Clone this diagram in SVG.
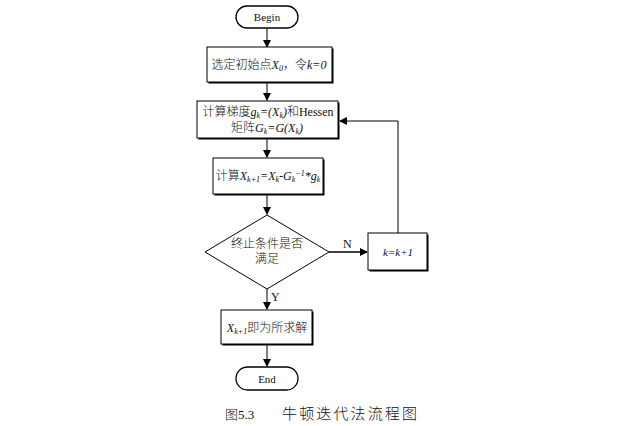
<svg xmlns="http://www.w3.org/2000/svg" width="618" height="426" viewBox="0 0 618 426">
<defs>
<marker id="ah" markerWidth="8" markerHeight="8" refX="7" refY="4" orient="auto" markerUnits="userSpaceOnUse">
<path d="M0,0 L8,4 L0,8 z" fill="#000"/>
</marker>
<style>
.t{font-family:"Liberation Serif","Noto Sans CJK SC",serif;font-size:12px;fill:#111;font-weight:300}
.i{font-style:italic}
.s{font-size:8px}
.box{fill:#fff;stroke:#000;stroke-width:1}
.sh{fill:#000}
.ln{fill:none;stroke:#000;stroke-width:1}
</style>
</defs>
<rect width="618" height="426" fill="#fff"/>
<g id="connectors">
<line class="ln" x1="267" y1="29" x2="267" y2="47" marker-end="url(#ah)"/>
<line class="ln" x1="267" y1="83" x2="267" y2="100" marker-end="url(#ah)"/>
<line class="ln" x1="267" y1="139" x2="267" y2="157" marker-end="url(#ah)"/>
<line class="ln" x1="267" y1="195" x2="267" y2="214" marker-end="url(#ah)"/>
<line class="ln" x1="267" y1="289" x2="267" y2="309" marker-end="url(#ah)"/>
<line class="ln" x1="329" y1="252" x2="367" y2="252" marker-end="url(#ah)" style="stroke-width:1.5"/>
<polyline class="ln" points="398,233 398,121 340,121" marker-end="url(#ah)"/>
<line class="ln" x1="267" y1="345" x2="267" y2="366" marker-end="url(#ah)"/>
<text class="t" x="343" y="248">N</text>
<text class="t" x="271" y="301">Y</text>
</g>
<g id="begin">
<rect class="box" x="236" y="6" width="62" height="22" rx="11" style="stroke-width:1.3"/>
<text class="t" x="267" y="21" text-anchor="middle" style="font-size:11px">Begin</text>
</g>
<g id="init">
<rect class="sh" x="208.5" y="48.5" width="125" height="35"/>
<rect class="box" x="207" y="47" width="125" height="35"/>
<text class="t" x="269" y="69" text-anchor="middle">选定初始点<tspan class="i">X</tspan><tspan class="i s" dy="2">0</tspan><tspan dy="-2">，令</tspan><tspan class="i">k=0</tspan></text>
</g>
<g id="grad">
<rect class="sh" x="198.5" y="102.5" width="141" height="37"/>
<rect class="box" x="197" y="101" width="141" height="37"/>
<text class="t" x="268" y="116" text-anchor="middle">计算梯度<tspan class="i">g</tspan><tspan class="i s" dy="2">k</tspan><tspan class="i" dy="-2">=(X</tspan><tspan class="i s" dy="2">k</tspan><tspan class="i" dy="-2">)</tspan>和Hessen</text>
<text class="t" x="267" y="132" text-anchor="middle">矩阵<tspan class="i">G</tspan><tspan class="i s" dy="2">k</tspan><tspan class="i" dy="-2">=G(X</tspan><tspan class="i s" dy="2">k</tspan><tspan class="i" dy="-2">)</tspan></text>
</g>
<g id="update">
<rect class="sh" x="214.5" y="159.5" width="110" height="36"/>
<rect class="box" x="213" y="158" width="110" height="36"/>
<text class="t" x="268" y="180" text-anchor="middle">计算<tspan class="i">X</tspan><tspan class="i s" dy="2">k+1</tspan><tspan class="i" dy="-2">=X</tspan><tspan class="i s" dy="2">k</tspan><tspan class="i" dy="-2">-G</tspan><tspan class="i s" dy="2">k</tspan><tspan class="i s" dy="-6">−1</tspan><tspan class="i" dy="4">*g</tspan><tspan class="i s" dy="2">k</tspan></text>
</g>
<g id="decision">
<polygon class="box" points="267,215 329,252 267,289 205,252"/>
<text class="t" x="267" y="248" text-anchor="middle">终止条件是否</text>
<text class="t" x="267" y="263" text-anchor="middle">满足</text>
</g>
<g id="incr">
<rect class="sh" x="369.5" y="234.5" width="59" height="37"/>
<rect class="box" x="368" y="233" width="59" height="37"/>
<text class="t i" x="398" y="256" text-anchor="middle" style="font-size:11px">k=k+1</text>
</g>
<g id="result">
<rect class="sh" x="222.5" y="311.5" width="91" height="34"/>
<rect class="box" x="221" y="310" width="91" height="34"/>
<text class="t" x="267" y="332" text-anchor="middle"><tspan class="i">X</tspan><tspan class="i s" dy="2">k+1</tspan><tspan dy="-2">即为所求解</tspan></text>
</g>
<g id="end">
<rect class="box" x="236" y="367" width="62" height="23" rx="11.5" style="stroke-width:1.3"/>
<text class="t" x="267" y="383" text-anchor="middle" style="font-size:11px">End</text>
</g>
<g id="caption">
<text class="t" x="225" y="419" style="font-size:13px">图5.3</text>
<text class="t" x="282" y="419" style="font-size:15px" textLength="135" lengthAdjust="spacing">牛顿迭代法流程图</text>
</g>
</svg>
